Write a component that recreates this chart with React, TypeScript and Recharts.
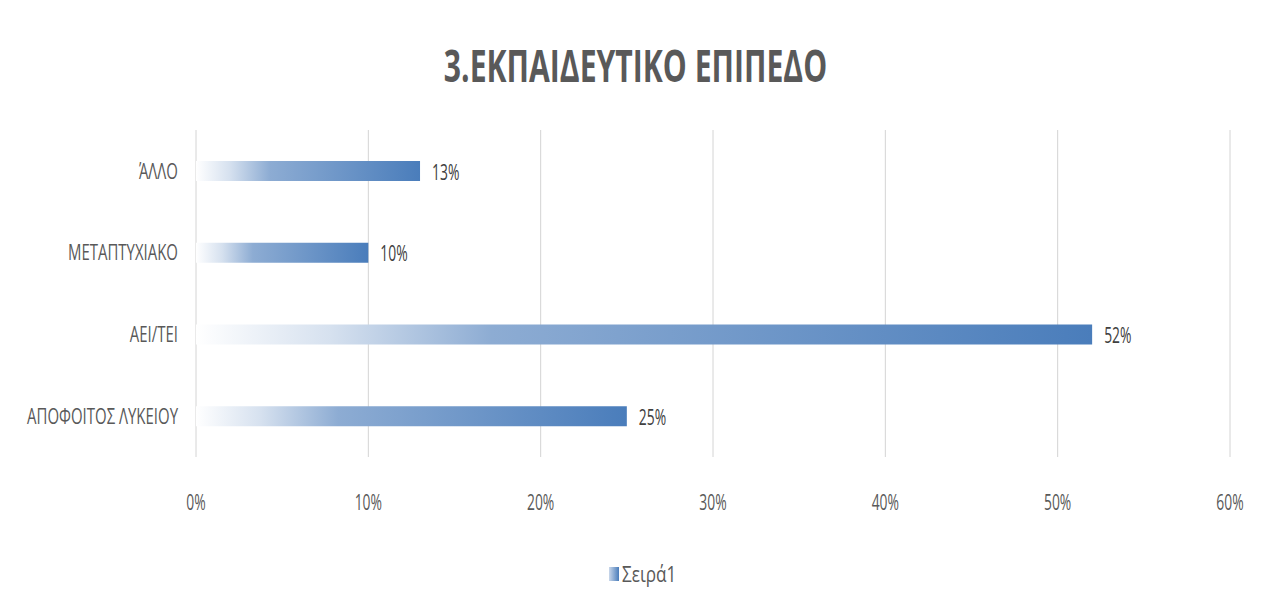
import React from 'react';
import { BarChart, Bar, XAxis, YAxis, CartesianGrid, LabelList, Legend } from 'recharts';

const categories = ['ΆΛΛΟ', 'ΜΕΤΑΠΤΥΧΙΑΚΟ', 'ΑΕΙ/ΤΕΙ', 'ΑΠΟΦΟΙΤΟΣ ΛΥΚΕΙΟΥ'];
const values = [13, 10, 52, 25];
const xTicks = [0, 10, 20, 30, 40, 50, 60];
const seriesName = 'Σειρά1';
const title = '3.ΕΚΠΑΙΔΕΥΤΙΚΟ ΕΠΙΠΕΔΟ';

const data = categories.map((c, i) => ({ name: c, value: values[i] }));

const FONT = '"Open Sans", "Noto Sans", sans-serif';
const FS = 22;
const SX_TEXT = 0.68;
const SX_NUM = 0.63;
const SX_LEG = 0.78;

const W = 1257;
const H = 601;

const XTick = (props: any) => {
  const { x, y, payload } = props;
  return (
    <g transform={`translate(${x},${y}) scale(${SX_NUM},1)`}>
      <text x={0} y={0} dy="0.35em" textAnchor="middle" fill="#595959" fontSize={FS} fontFamily={FONT}>
        {payload.value}%
      </text>
    </g>
  );
};

const YTick = (props: any) => {
  const { x, y, payload } = props;
  return (
    <g transform={`translate(${x},${y}) scale(${SX_TEXT},1)`}>
      <text x={0} y={0} dy="0.35em" textAnchor="end" fill="#595959" fontSize={FS} fontFamily={FONT}>
        {payload.value}
      </text>
    </g>
  );
};

const ValueLabel = (props: any) => {
  const { x, y, width, height, value } = props;
  return (
    <g transform={`translate(${x + width + 12},${y + height / 2 + 1}) scale(${SX_NUM},1)`}>
      <text x={0} y={0} dy="0.35em" textAnchor="start" fill="#404040" fontSize={FS} fontFamily={FONT}>
        {value}%
      </text>
    </g>
  );
};

const LegendContent = () => (
  <svg width={W} height={30} style={{ display: 'block' }}>
    <defs>
      <linearGradient id="legGrad" x1="0" y1="0" x2="1" y2="0">
        <stop offset="0" stopColor="#c9d7ea" />
        <stop offset="1" stopColor="#4a7dbb" />
      </linearGradient>
    </defs>
    <rect x={601} y={8} width={10} height={14} fill="url(#legGrad)" />
    <g transform={`translate(614,15) scale(${SX_LEG},1)`}>
      <text x={0} y={0} dy="0.35em" fill="#595959" fontSize={FS} fontFamily={FONT}>
        {seriesName}
      </text>
    </g>
  </svg>
);

export default function App() {
  return (
    <div
      style={{
        position: 'relative',
        width: W + 2,
        height: 620,
        border: '1px solid #d9d9d9',
        boxSizing: 'border-box',
        marginLeft: -1,
        marginTop: -1,
        background: '#fff',
      }}
    >
      <svg width={W} height={100} style={{ position: 'absolute', left: 0, top: 0 }}>
        <g transform={`translate(${W / 2 - 1},74) scale(0.67,1)`}>
          <text x={0} y={0} textAnchor="middle" fill="#595959" fontSize={45} fontWeight="bold" fontFamily={FONT}>
            {title}
          </text>
        </g>
      </svg>
      <div style={{ position: 'absolute', left: 0, top: 0 }}>
        <BarChart
          width={W}
          height={H}
          data={data}
          layout="vertical"
          margin={{ top: 122, right: 35, left: 0, bottom: 122 }}
        >
          <defs>
            <linearGradient id="barGrad" x1="0" y1="0" x2="1" y2="0">
              <stop offset="0" stopColor="#ffffff" />
              <stop offset="0.15" stopColor="#d6e1ef" />
              <stop offset="0.33" stopColor="#8dacd3" />
              <stop offset="1" stopColor="#4a7dbb" />
            </linearGradient>
          </defs>
          <CartesianGrid horizontal={false} stroke="#d4d4d4" strokeWidth={1} />
          <XAxis
            type="number"
            domain={[0, 60]}
            ticks={xTicks}
            axisLine={false}
            tickLine={false}
            tickSize={0}
            tickMargin={45}
            tick={<XTick />}
            interval={0}
          />
          <YAxis
            type="category"
            dataKey="name"
            width={188}
            axisLine={false}
            tickLine={false}
            tickSize={0}
            tickMargin={18}
            tick={<YTick />}
            interval={0}
          />
          <Legend
            verticalAlign="middle"
            align="center"
            layout="horizontal"
            wrapperStyle={{ top: 551, left: 0, width: W }}
            content={<LegendContent />}
          />
          <Bar dataKey="value" name={seriesName} fill="url(#barGrad)" barSize={20} isAnimationActive={false}>
            <LabelList dataKey="value" content={<ValueLabel />} />
          </Bar>
        </BarChart>
      </div>
    </div>
  );
}
